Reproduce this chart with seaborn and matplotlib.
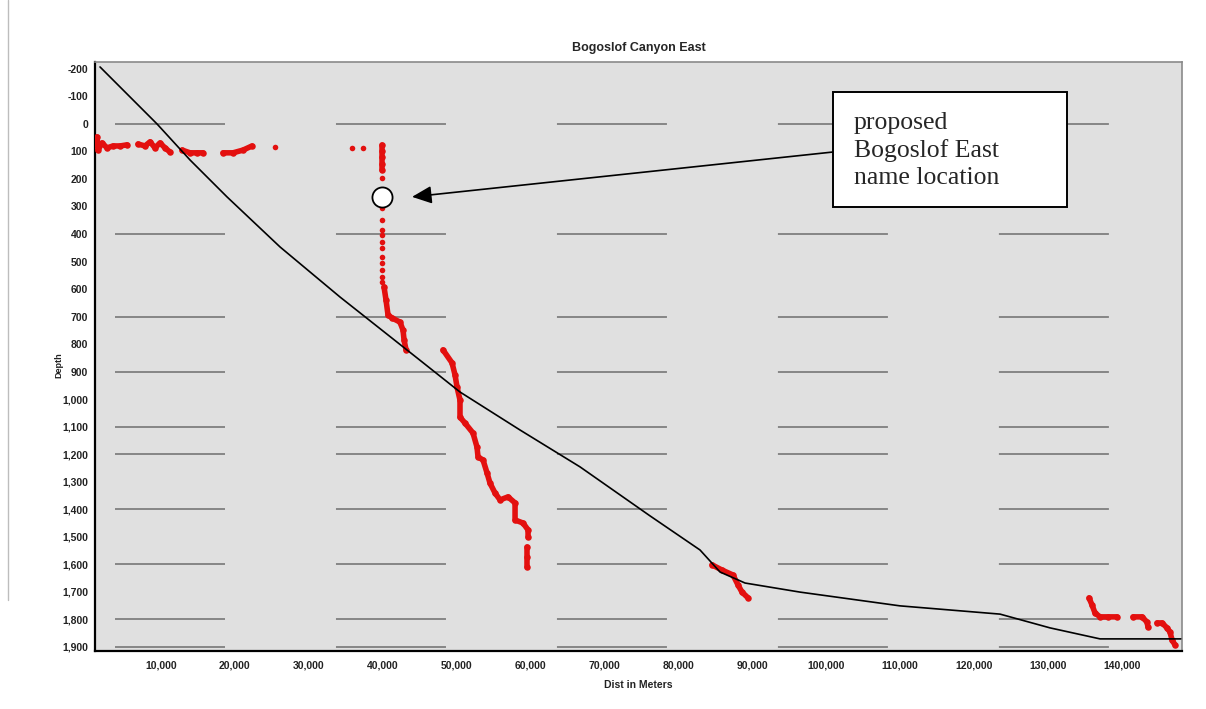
import numpy as np
import pandas as pd
import matplotlib
matplotlib.use('Agg')
import matplotlib.pyplot as plt
from matplotlib.patches import Rectangle
from matplotlib.lines import Line2D
from matplotlib.ticker import FuncFormatter, FixedLocator
import seaborn as sns

# Bathymetric profile along the canyon (black line)
profile_dist = [1760, 9470, 13940, 18940, 26120, 34240, 44650, 50470, 58590, 66710,
                76180, 82950, 85660, 89040, 96480, 110010, 123550, 130310, 137080, 148000]
profile_depth = [-207, 0, 131, 265, 447, 629, 850, 974, 1112, 1246,
                 1424, 1548, 1628, 1668, 1701, 1751, 1781, 1831, 1871, 1871]

# Red soundings, one list pair per continuous run
run_a_dist = [1350, 1490, 2030, 2710, 3520, 4470, 5410]
run_a_depth = [47, 95, 69, 87, 80, 80, 76]
run_b_dist = [6900, 7850, 8530, 9200, 9880, 10550, 11230]
run_b_depth = [73, 80, 65, 87, 69, 87, 102]
run_c_dist = [12860, 13940, 14880, 15700]
run_c_depth = [95, 105, 105, 105]
run_d_dist = [18400, 19760, 21110, 22330]
run_d_depth = [105, 105, 95, 80]
run_e_dist = [39920, 39920, 39920, 39920, 39920]
run_e_depth = [78, 100, 120, 145, 167]
run_f_dist = [40190, 40460, 40730, 41270, 42350, 42760, 42900, 43170]
run_f_depth = [592, 640, 694, 705, 720, 749, 785, 821]
run_g_dist = [48170, 49390, 49800, 50070, 50470, 50470, 51150, 52230, 52770, 52910, 53590,
              54130, 54530, 55210, 55890, 56970, 57920, 57920, 59000, 59680, 59680]
run_g_depth = [821, 868, 912, 956, 1003, 1065, 1087, 1123, 1174, 1210, 1221,
               1268, 1305, 1341, 1366, 1355, 1377, 1439, 1450, 1475, 1501]
run_h_dist = [59540, 59540, 59540]
run_h_depth = [1537, 1575, 1610]
run_i_dist = [84570, 85930, 87420, 88090, 88630, 89450]
run_i_depth = [1602, 1621, 1639, 1675, 1701, 1722]
run_j_dist = [135590, 136000, 136400, 137080, 138160, 139380]
run_j_depth = [1722, 1748, 1777, 1791, 1791, 1791]
run_k_dist = [141540, 142760, 143440, 143570]
run_k_depth = [1791, 1791, 1810, 1828]
run_l_dist = [144790, 145470, 146140, 146550, 146820, 147230]
run_l_depth = [1813, 1813, 1831, 1846, 1875, 1893]

# isolated red dots
dot_dist = [25440, 35860, 37350, 39920, 39920, 39920, 39920, 39920, 39920, 39920,
            39920, 39920, 39920, 39920, 39920]
dot_depth = [84, 87, 87, 196, 305, 349, 385, 403, 429, 450, 483, 505, 531, 556, 574]

grid_depths = [0, 400, 700, 900, 1100, 1200, 1400, 1600, 1800, 1900]
x_ticks = list(range(10000, 150000, 10000))
x_tick_marks = [30000, 40000, 50000, 70000, 80000, 120000]
y_ticks = list(range(-200, 2000, 100))

proposed_dist, proposed_depth = 39920, 265
label_text = "proposed\nBogoslof East\nname location"

runs = {'a': (run_a_dist, run_a_depth), 'b': (run_b_dist, run_b_depth),
        'c': (run_c_dist, run_c_depth), 'd': (run_d_dist, run_d_depth),
        'e': (run_e_dist, run_e_depth), 'f': (run_f_dist, run_f_depth),
        'g': (run_g_dist, run_g_depth), 'h': (run_h_dist, run_h_depth),
        'i': (run_i_dist, run_i_depth), 'j': (run_j_dist, run_j_depth),
        'k': (run_k_dist, run_k_depth), 'l': (run_l_dist, run_l_depth)}
red_df = pd.concat([pd.DataFrame({'dist': d, 'depth': z, 'run': k}) for k, (d, z) in runs.items()],
                   ignore_index=True)
prof_df = pd.DataFrame({'dist': profile_dist, 'depth': profile_depth})
dots_df = pd.DataFrame({'dist': dot_dist, 'depth': dot_depth})

sns.set_style('white')
plt.rcParams['font.family'] = ['Liberation Sans', 'DejaVu Sans']
plt.rcParams['lines.scale_dashes'] = False

fig = plt.figure(figsize=(12.06, 7.09), dpi=100)
ax = fig.add_axes([95 / 1206, 58 / 709, 1087 / 1206, 589 / 709])
ax.set_facecolor('#e0e0e0')

xmin, xmax = 1080, 148170
ax.hlines(grid_depths, xmin, xmax, colors='#6e6e6e', linewidth=1.1,
          linestyles=[(144.7, (79.2, 79.9))], zorder=1)

red = '#e3100f'
sns.lineplot(data=red_df, x='dist', y='depth', units='run', estimator=None, sort=False,
             color=red, linewidth=4, ax=ax, zorder=3)
sns.scatterplot(data=red_df, x='dist', y='depth', color=red, s=22, linewidth=0, ax=ax, zorder=3)
sns.scatterplot(data=dots_df, x='dist', y='depth', color=red, s=16, linewidth=0, ax=ax, zorder=3)
sns.lineplot(data=prof_df, x='dist', y='depth', sort=False, color='black', linewidth=1.2,
             ax=ax, zorder=4)

ax.scatter([proposed_dist], [proposed_depth], s=210, facecolor='white', edgecolor='black',
           linewidth=1.3, zorder=6)

ax.set_xlim(xmin, xmax)
ax.set_ylim(1915, -225)

ax.xaxis.set_major_locator(FixedLocator(x_ticks))
ax.xaxis.set_minor_locator(FixedLocator(x_tick_marks))
ax.yaxis.set_major_locator(FixedLocator(y_ticks))
ax.yaxis.set_minor_locator(FixedLocator(grid_depths))
fmt = FuncFormatter(lambda v, p: f"{v:,.0f}")
ax.xaxis.set_major_formatter(fmt)
ax.yaxis.set_major_formatter(fmt)
ax.tick_params(axis='both', which='major', length=0, labelsize=7.5, labelcolor='#222222')
ax.tick_params(axis='x', which='major', pad=7)
ax.tick_params(axis='y', which='major', pad=5)
ax.tick_params(axis='both', which='minor', length=4, width=1, color='black', direction='out',
               bottom=True, left=True)
for lab in ax.get_xticklabels() + ax.get_yticklabels():
    lab.set_fontweight('bold')

for side in ['left', 'bottom']:
    ax.spines[side].set_color('black')
    ax.spines[side].set_linewidth(1.6)
for side in ['top', 'right']:
    ax.spines[side].set_color('#8a8a8a')
    ax.spines[side].set_linewidth(1.2)

ax.set_title('Bogoslof Canyon East', fontsize=9, fontweight='bold', pad=8)
ax.set_xlabel('Dist in Meters', fontsize=7.5, fontweight='bold', color='#222222')
ax.set_ylabel('Depth', fontsize=6.5, fontweight='bold', color='#222222')
ax.xaxis.set_label_coords(0.5, -0.049)
ax.yaxis.set_label_coords(-0.029, 0.486)

# annotation box and arrow
ax.annotate('', xy=(43980, 265), xytext=(100950, 102),
            arrowprops=dict(arrowstyle='-|>,head_length=0.4,head_width=0.18', color='black',
                            lw=1.2, mutation_scale=30, shrinkA=0, shrinkB=0), zorder=5)
ax.add_patch(Rectangle((0.679, 0.754), 0.215, 0.195, transform=ax.transAxes,
                       facecolor='white', edgecolor='black', linewidth=1.4, zorder=7))
ax.text(0.698, 0.850, label_text, transform=ax.transAxes, ha='left', va='center',
        fontsize=18.5, family=['Liberation Serif', 'DejaVu Serif'], linespacing=1.3, zorder=8)

# page edge line on the left
fig.add_artist(Line2D([8 / 1206, 8 / 1206], [1.0, 1 - 600 / 709], color='#bdbdbd', linewidth=1))

fig.savefig('out.png', dpi=100)
